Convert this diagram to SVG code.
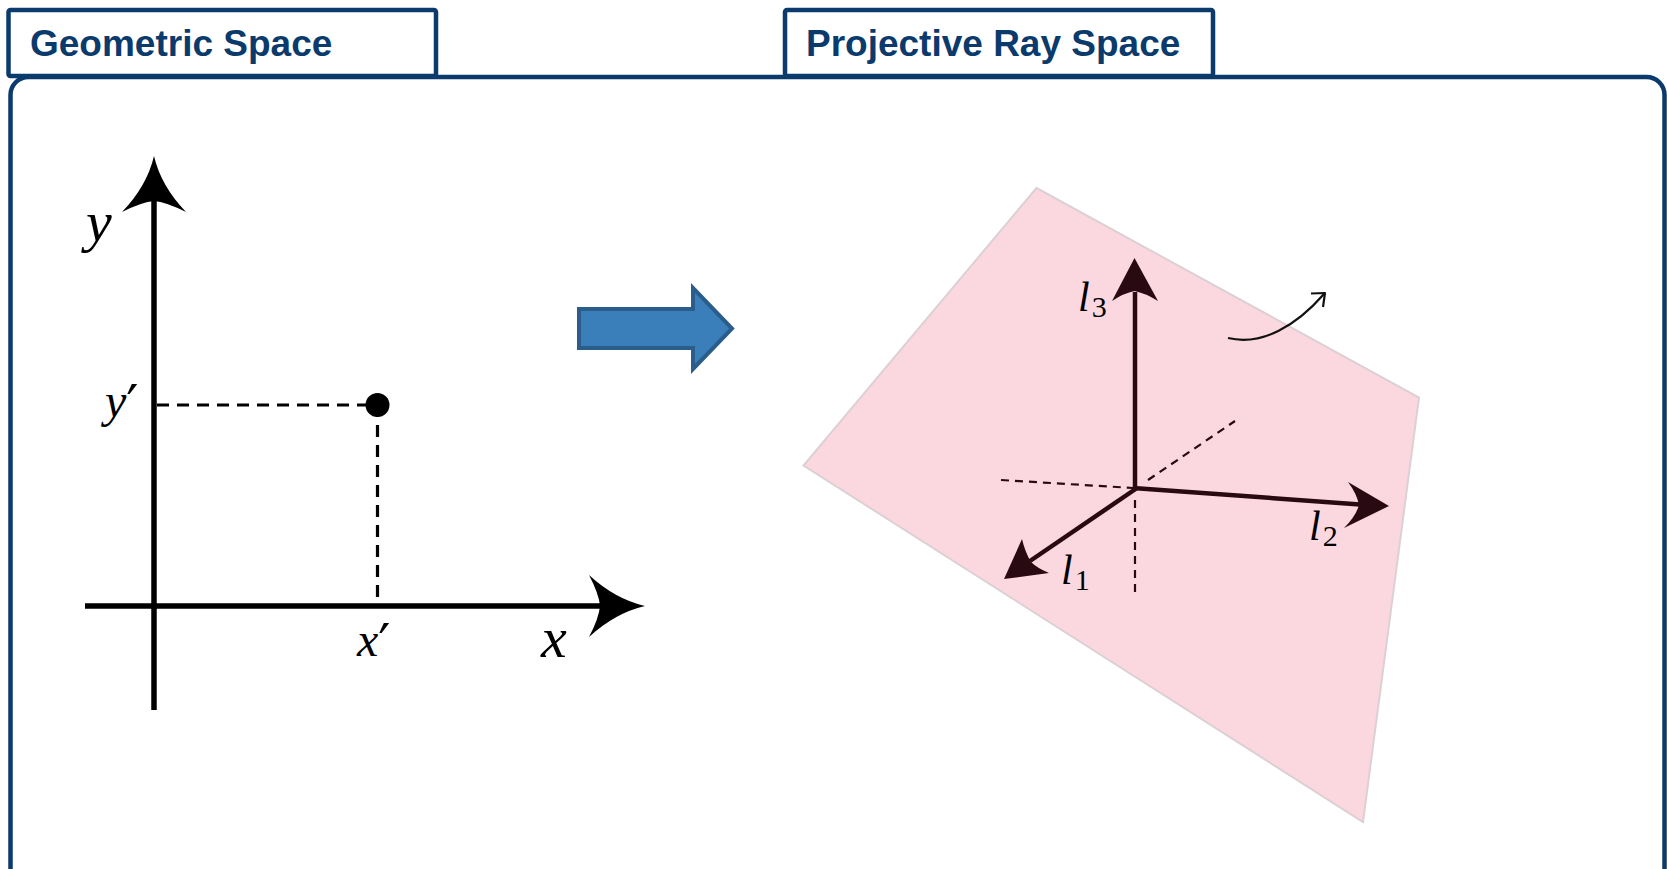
<svg xmlns="http://www.w3.org/2000/svg" width="1667" height="869" viewBox="0 0 1667 869">
<style>
.frame{fill:#fff;stroke:#0b3a6c;stroke-width:4.5}
.tab{fill:#fff;stroke:#0b3a6c;stroke-width:4.5}
.title{font-family:"Liberation Sans",Arial,sans-serif;font-weight:bold;font-size:37px;fill:#0b3a6c}
.axis{stroke:#000;stroke-width:5.5;fill:none}
.dash{stroke:#000;stroke-width:3.2;stroke-dasharray:12 8;fill:none}
.math{font-family:"Liberation Serif","Times New Roman",serif;font-style:italic;fill:#000}
.sub{font-family:"Liberation Serif","Times New Roman",serif;font-style:normal}
.prime{font-family:"DejaVu Serif",serif;font-style:normal}
.ax3{stroke:#2a0a12;stroke-width:4.5;fill:none}
.dash3{stroke:#2a0a12;stroke-width:2.2;stroke-dasharray:8 6;fill:none}
.head3{fill:#2a0a12}
</style>
<g id="panel">
<rect class="frame" x="10.5" y="77" width="1654" height="830" rx="18"/>
</g>
<g id="tab-geometric">
<rect class="tab" x="8.5" y="10" width="427.5" height="66" rx="2"/>
<text class="title" x="30" y="56">Geometric Space</text>
</g>
<g id="tab-projective">
<rect class="tab" x="785" y="10" width="428" height="66" rx="2"/>
<text class="title" x="806" y="56">Projective Ray Space</text>
</g>
<g id="geometric-plot">
<line class="axis" x1="154" y1="710" x2="154" y2="200"/>
<path d="M154,156 Q161,186 186,212 Q166,202 154,201 Q142,202 122,212 Q147,186 154,156 Z" fill="#000"/>
<line class="axis" x1="85" y1="606" x2="602" y2="606"/>
<path d="M645,606 Q615,613 589,637 Q599,618 600,606 Q599,594 589,575 Q615,599 645,606 Z" fill="#000"/>
<line class="dash" x1="157" y1="405" x2="377" y2="405"/>
<line class="dash" x1="377.5" y1="405" x2="377.5" y2="604"/>
<circle cx="377.5" cy="405" r="12" fill="#000"/>
<text class="math" x="86" y="241" font-size="58">y</text>
<text class="math" x="105" y="417" font-size="48">y<tspan class="prime" font-size="54" dy="7" dx="0">′</tspan></text>
<text class="math" x="357" y="656" font-size="48">x<tspan class="prime" font-size="54" dy="7" dx="0">′</tspan></text>
<text class="math" x="541" y="657" font-size="58">x</text>
</g>
<g id="connectors">
<path d="M579,309 L693,309 L693,288 L732,328.5 L693,369 L693,348 L579,348 Z" fill="#3b7fba" stroke="#2b5d8b" stroke-width="4" stroke-linejoin="miter"/>
</g>
<g id="projective-plot">
<polygon points="1036.5,188 1419,397.5 1363,822 803.5,465.5" fill="#fbd8e0" stroke="#ddd0d4" stroke-width="2"/>
<line class="dash3" x1="1001" y1="480" x2="1133" y2="488"/>
<line class="dash3" x1="1148" y1="480" x2="1235" y2="421"/>
<line class="dash3" x1="1135" y1="500" x2="1135" y2="592"/>
<line class="ax3" x1="1135" y1="488" x2="1135" y2="292"/>
<path class="head3" d="M1134.5,258 L1158,301 Q1145,293 1134.5,291 Q1124,293 1112,301 Z"/>
<line class="ax3" x1="1133" y1="488" x2="1360" y2="504.5"/>
<path class="head3" d="M1389,506 L1344,528 Q1356,516 1359,505 Q1357,494 1348,482 Z"/>
<line class="ax3" x1="1137" y1="488" x2="1030" y2="561"/>
<path class="head3" d="M1004,579 L1049,573 Q1037,568 1031,562 Q1025,552 1022,539 Z"/>
<path d="M1228,338 C1262,346 1296,326 1324,294" fill="none" stroke="#111" stroke-width="2.2"/>
<path d="M1311,293.5 L1325,293 L1323,307" fill="none" stroke="#111" stroke-width="2.2" stroke-linejoin="round"/>
<text class="math" x="1078" y="311" font-size="42">l<tspan class="sub" font-size="30" dy="6" dx="2">3</tspan></text>
<text class="math" x="1309" y="540" font-size="42">l<tspan class="sub" font-size="30" dy="6" dx="2">2</tspan></text>
<text class="math" x="1061" y="584" font-size="42">l<tspan class="sub" font-size="30" dy="6" dx="2">1</tspan></text>
</g>
</svg>
